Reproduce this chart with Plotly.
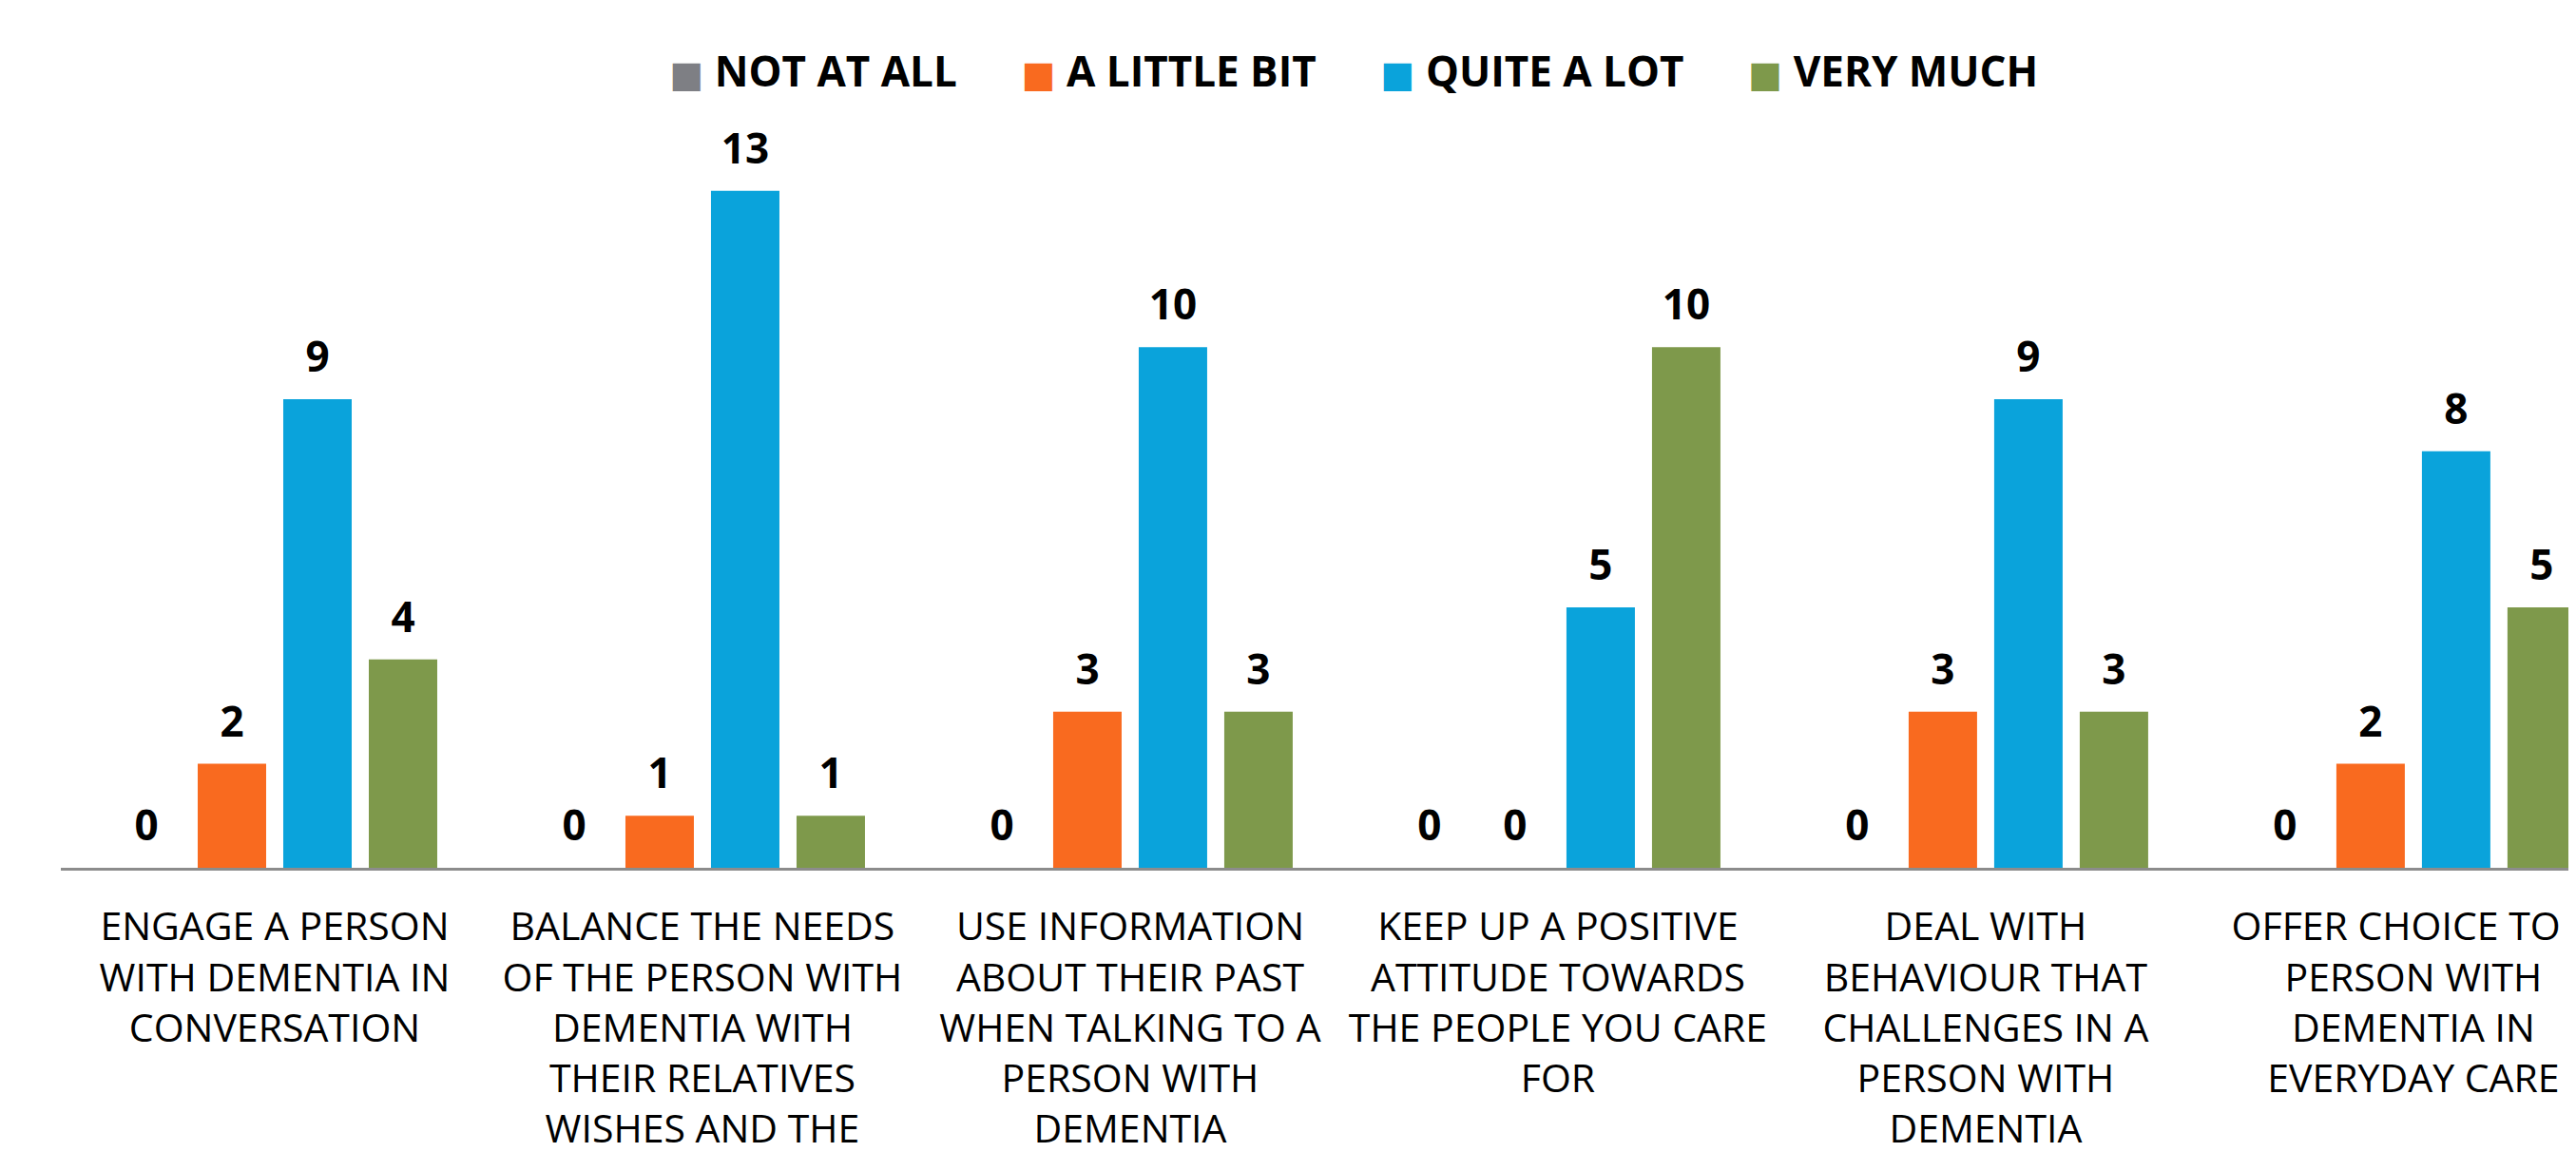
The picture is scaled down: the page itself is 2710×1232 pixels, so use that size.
import plotly.graph_objects as go

# Survey answers per skill (counts of respondents)
categories = [
    "ENGAGE A PERSON<br>WITH DEMENTIA IN<br>CONVERSATION",
    "BALANCE THE NEEDS<br>OF THE PERSON WITH<br>DEMENTIA WITH<br>THEIR RELATIVES<br>WISHES AND THE",
    "USE INFORMATION<br>ABOUT THEIR PAST<br>WHEN TALKING TO A<br>PERSON WITH<br>DEMENTIA",
    "KEEP UP A POSITIVE<br>ATTITUDE TOWARDS<br>THE PEOPLE YOU CARE<br>FOR",
    "DEAL WITH<br>BEHAVIOUR THAT<br>CHALLENGES IN A<br>PERSON WITH<br>DEMENTIA",
    "OFFER CHOICE TO A<br>PERSON WITH<br>DEMENTIA IN<br>EVERYDAY CARE",
]
not_at_all = [0, 0, 0, 0, 0, 0]
a_little_bit = [2, 1, 3, 0, 3, 2]
quite_a_lot = [9, 13, 10, 5, 9, 8]
very_much = [4, 1, 3, 10, 3, 5]

series = [
    ("NOT AT ALL", not_at_all, "#7E7F84"),
    ("A LITTLE BIT", a_little_bit, "#F96A1F"),
    ("QUITE A LOT", quite_a_lot, "#0AA3DB"),
    ("VERY MUCH", very_much, "#7E994B"),
]

FONT = "Open Sans"
W, H = 2710, 1232
NBSP = "\u00a0"

fig = go.Figure()
for i, (name, vals, color) in enumerate(series):
    fig.add_trace(
        go.Bar(
            x=categories,
            y=vals,
            name=name,
            marker=dict(color=color, line=dict(width=0)),
            text=vals,
            # small base font + empty 2nd line lifts the label off the bar top
            texttemplate="<span style='font-size:44px'><b>%{text}</b></span><br> ",
            textposition="outside",
            textfont=dict(family=FONT, size=16, color="black"),
            cliponaxis=False,
            showlegend=False,
        )
    )
    # legend-only entry: the coloured square is a glyph so it can be large
    trail = NBSP * 2 if i < len(series) - 1 else ""
    fig.add_trace(
        go.Scatter(
            x=[None],
            y=[None],
            mode="markers",
            name=f"<span style='color:{color};font-family:DejaVu Sans;font-size:38px'>■</span>"
                 f"{NBSP}{name}{trail}",
            marker=dict(symbol="square", size=2, color="rgba(0,0,0,0)"),
        )
    )

fig.update_layout(
    width=W,
    height=H,
    margin=dict(l=56, r=0, t=138, b=327),
    paper_bgcolor="white",
    plot_bgcolor="white",
    bargap=0.2,
    bargroupgap=0.2,
    font=dict(family=FONT, color="black"),
    legend=dict(
        orientation="h",
        x=0.506,
        xanchor="center",
        y=1.093,
        yanchor="middle",
        font=dict(family=FONT, size=44, color="black", weight="bold"),
        itemsizing="trace",
        itemwidth=30,
        traceorder="normal",
    ),
)

fig.update_xaxes(
    range=[-0.5, 5.398],
    showline=True,
    linecolor="#8C8C8C",
    linewidth=3,
    showgrid=False,
    ticks="outside",
    ticklen=24,
    tickcolor="rgba(0,0,0,0)",
    tickangle=0,
    tickfont=dict(family=FONT, size=41, color="black"),
    automargin=False,
)
fig.update_yaxes(range=[0, 14], visible=False, showgrid=False, zeroline=False)

fig.write_html("out.html")
